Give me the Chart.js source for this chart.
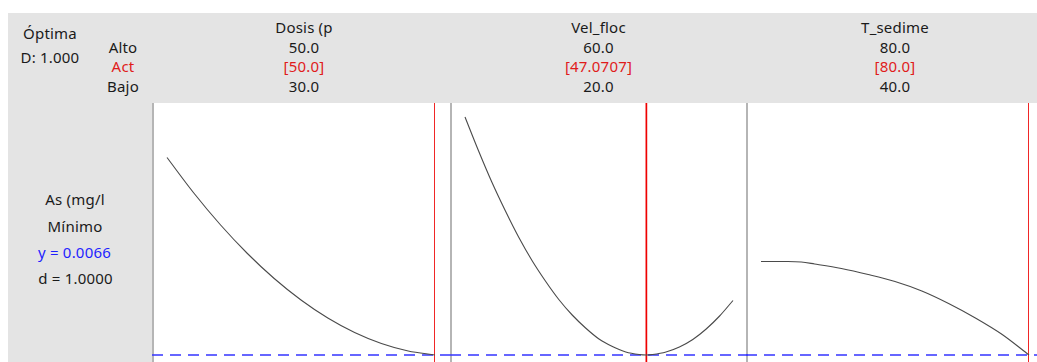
<!DOCTYPE html>
<html>
<head>
<meta charset="utf-8">
<script src="https://cdn.jsdelivr.net/npm/chart.js@4/dist/chart.umd.min.js"></script>
<style>
  html, body { margin:0; padding:0; background:#fff; }
  body { width:1037px; height:362px; overflow:hidden; position:relative; font-family:"Noto Sans", "DejaVu Sans", sans-serif; font-size:15px; letter-spacing:0.2px; color:#1a1a1a; }
  .gray { position:absolute; background:#e4e4e4; }
  .t { position:absolute; transform:translate(-50%,-50%); white-space:nowrap; line-height:1; }
  .red { color:#e01b1b; }
  .blue { color:#1f1fff; }
  .panel { position:absolute; top:103px; height:259px; z-index:2; }
  .sep { position:absolute; top:103px; height:259px; width:2px; background:#b5b5b5; z-index:1; }
</style>
</head>
<body>
<div class="gray" style="left:8px;top:13px;width:1029px;height:90px;"></div>
<div class="gray" style="left:8px;top:103px;width:144px;height:259px;"></div>
<div id="texts"></div>
<script>
// ---- data ----
const factorNames = ["Dosis (p", "Vel_floc", "T_sedime"];
const highLabels  = ["50.0", "60.0", "80.0"];
const curLabels   = ["[50.0]", "[47.0707]", "[80.0]"];
const lowLabels   = ["30.0", "20.0", "40.0"];
const lowValues   = [30, 20, 40];
const highValues  = [50, 60, 80];
const curValues   = [50, 47.0707, 80];

const responseName = "As (mg/l";
const goalLabel = "Mínimo";
const yOptimum = 0.0066;
const yLabel = "y = 0.0066";
const dLabel = "d = 1.0000";
const compositeLabel = "D: 1.000";

const dosisX = [30, 32, 34, 36, 38, 40, 42, 44, 46, 48, 50];
const dosisY = [0.0461, 0.0390, 0.0326, 0.0269, 0.0219, 0.0176, 0.0140, 0.0111, 0.0089, 0.0074, 0.0066];

const velX = [20, 22, 24, 26, 28, 30, 32, 34, 36, 38, 40, 42, 44, 46, 47.0707, 48, 50, 52, 54, 56, 58, 60];
const velY = [0.0542, 0.0475, 0.0412, 0.0355, 0.0302, 0.0255, 0.0214, 0.0177, 0.0146, 0.0120, 0.0098, 0.0083, 0.0072, 0.0067, 0.0066, 0.0067, 0.0072, 0.0082, 0.0097, 0.0118, 0.0144, 0.0175];

const tsedX = [40, 42, 44, 46, 48, 52, 56, 60, 64, 68, 72, 76, 80];
const tsedY = [0.0253, 0.0253, 0.0253, 0.0252, 0.0248, 0.0239, 0.0227, 0.0213, 0.0194, 0.0169, 0.0140, 0.0107, 0.0066];

// ---- layout ----
const yMin = 0.0052, yMax = 0.0570;
const panelLefts = [152, 450, 746];
const panelWidth = 298;
const headerCenters = [304, 598.5, 895];

const texts = document.getElementById('texts');
function addText(str, x, y, cls) {
  const d = document.createElement('div');
  d.className = 't' + (cls ? ' ' + cls : '');
  d.style.left = x + 'px';
  d.style.top = y + 'px';
  d.textContent = str;
  texts.appendChild(d);
}
addText("Óptima", 50, 33);
addText(compositeLabel, 50, 57);
addText("Alto", 123, 47);
addText("Act", 123, 66, 'red');
addText("Bajo", 123, 86);
addText(responseName, 75, 199);
addText(goalLabel, 75, 225.5);
addText(yLabel, 74.5, 251.5, 'blue');
addText(dLabel, 75.5, 277.5);

const curves = [[dosisX, dosisY], [velX, velY], [tsedX, tsedY]];

const targetLine = {
  id: 'targetLine',
  beforeDatasetsDraw(chart) {
    const ctx = chart.ctx;
    const y = chart.scales.y.getPixelForValue(yOptimum);
    ctx.save();
    ctx.strokeStyle = '#3535ff';
    ctx.lineWidth = 1.5;
    ctx.setLineDash([11, 7]);
    ctx.beginPath();
    ctx.moveTo(0, y);
    ctx.lineTo(chart.width, y);
    ctx.stroke();
    ctx.restore();
  }
};

for (let i = 0; i < 3; i++) {
  const cx = headerCenters[i];
  addText(factorNames[i], cx, 27);
  addText(highLabels[i], cx, 47);
  addText(curLabels[i], cx, 66, 'red');
  addText(lowLabels[i], cx, 86);

  const sep = document.createElement('div');
  sep.className = 'sep';
  sep.style.left = panelLefts[i] + 'px';
  document.body.appendChild(sep);

  const wrap = document.createElement('div');
  wrap.className = 'panel';
  wrap.style.left = panelLefts[i] + 'px';
  wrap.style.width = panelWidth + 'px';
  const cv = document.createElement('canvas');
  cv.width = panelWidth; cv.height = 259;
  wrap.appendChild(cv);
  document.body.appendChild(wrap);

  const pts = curves[i][0].map((x, k) => ({x: x, y: curves[i][1][k]}));

  new Chart(cv, {
    type: 'line',
    data: {
      datasets: [
        { data: pts, borderColor: '#4a4a4a', borderWidth: 1.1, pointRadius: 0, cubicInterpolationMode: 'monotone', order: 0, clip: false },
        { data: [{x: curValues[i], y: yMin}, {x: curValues[i], y: yMax}], borderColor: '#ee0000', borderWidth: 1.7, pointRadius: 0, order: 1 }
      ]
    },
    options: {
      responsive: false,
      animation: false,
      layout: { padding: { left: 15, right: 15, top: 0, bottom: 0 } },
      plugins: { legend: { display: false }, tooltip: { enabled: false } },
      scales: {
        x: { type: 'linear', display: false, min: lowValues[i], max: highValues[i] },
        y: { type: 'linear', display: false, min: yMin, max: yMax }
      }
    },
    plugins: [targetLine]
  });
}
</script>
</body>
</html>
